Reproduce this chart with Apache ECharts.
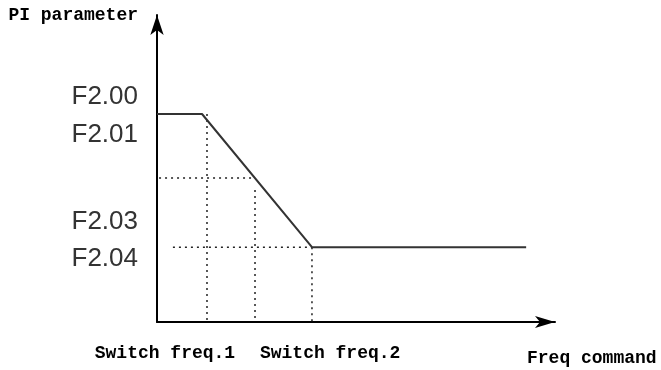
<!DOCTYPE html>
<html>
<head>
<meta charset="utf-8">
<script src="https://cdn.jsdelivr.net/npm/echarts@6/dist/echarts.min.js"></script>
<style>
  html, body { margin: 0; padding: 0; background: #fff; }
  #chart { width: 661px; height: 370px; }
</style>
</head>
<body>
<div id="chart"></div>
<script>
// PI parameter vs frequency command (arbitrary units)
var curveX = [0, 9.05, 31.15, 74.2];
var curveY = [54.2, 54.2, 19.5, 19.5];

// dotted guide lines: [x1, y1, x2, y2]
var guideLines = [
    [10.05, 54.2, 10.05, 0],
    [19.7, 34.4, 19.7, 0],
    [31.15, 19.5, 31.15, 0],
    [-2.0, 37.5, 19.0, 37.5],
    [3.2, 19.5, 31.15, 19.5]
];

var yLabelValues = [58.6, 48.7, 26.1, 16.4];
var yLabelTexts = ['F2.00', 'F2.01', 'F2.03', 'F2.04'];

var xLabelValues = [1.6, 34.8];
var xLabelTexts = ['Switch freq.1', 'Switch freq.2'];

var monoFont = '"Liberation Mono", "DejaVu Sans Mono", monospace';

var chart = echarts.init(document.getElementById('chart'), null, { renderer: 'canvas' });

var series = [{
    type: 'line',
    data: curveX.map(function(x, i) { return [x, curveY[i]]; }),
    symbol: 'none',
    lineStyle: { color: '#333', width: 2 },
    z: 3
}];

guideLines.forEach(function(g) {
    series.push({
        type: 'line',
        data: [[g[0], g[1]], [g[2], g[3]]],
        symbol: 'none',
        clip: false,
        silent: true,
        lineStyle: { color: '#222', width: 1.5, type: [2, 4] },
        z: 2
    });
});

chart.setOption({
    animation: false,
    backgroundColor: '#fff',
    grid: { left: 157, right: 106, top: 15, bottom: 48 },
    xAxis: {
        type: 'value',
        min: 0, max: 80,
        splitLine: { show: false },
        axisLine: {
            lineStyle: { color: '#000', width: 2 },
            symbol: ['none', 'arrow'],
            symbolSize: [9, 20]
        },
        axisTick: { show: false },
        axisLabel: {
            customValues: xLabelValues,
            margin: 22,
            fontFamily: monoFont,
            fontWeight: 'bold',
            fontSize: 18,
            color: '#000',
            formatter: function(v) {
                var i = xLabelValues.indexOf(v);
                return i >= 0 ? xLabelTexts[i] : '';
            }
        },
        name: 'Freq command',
        nameLocation: 'end',
        nameGap: -28,
        nameTextStyle: {
            fontFamily: monoFont,
            fontWeight: 'bold',
            fontSize: 18,
            color: '#000',
            align: 'left',
            verticalAlign: 'top',
            padding: [27, 0, 0, 0]
        }
    },
    yAxis: {
        type: 'value',
        min: 0, max: 80,
        splitLine: { show: false },
        axisLine: {
            lineStyle: { color: '#000', width: 2 },
            symbol: ['none', 'arrow'],
            symbolSize: [10, 20]
        },
        axisTick: { show: false },
        axisLabel: {
            customValues: yLabelValues,
            margin: 19,
            fontFamily: '"Liberation Sans", Arial, sans-serif',
            fontSize: 26,
            color: '#333',
            formatter: function(v) {
                var i = yLabelValues.indexOf(v);
                return i >= 0 ? yLabelTexts[i] : '';
            }
        },
        name: 'PI parameter',
        nameLocation: 'end',
        nameGap: 0,
        nameTextStyle: {
            fontFamily: monoFont,
            fontWeight: 'bold',
            fontSize: 18,
            color: '#000',
            align: 'right',
            verticalAlign: 'middle',
            padding: [0, 19, 0, 0]
        }
    },
    series: series
});
</script>
</body>
</html>
